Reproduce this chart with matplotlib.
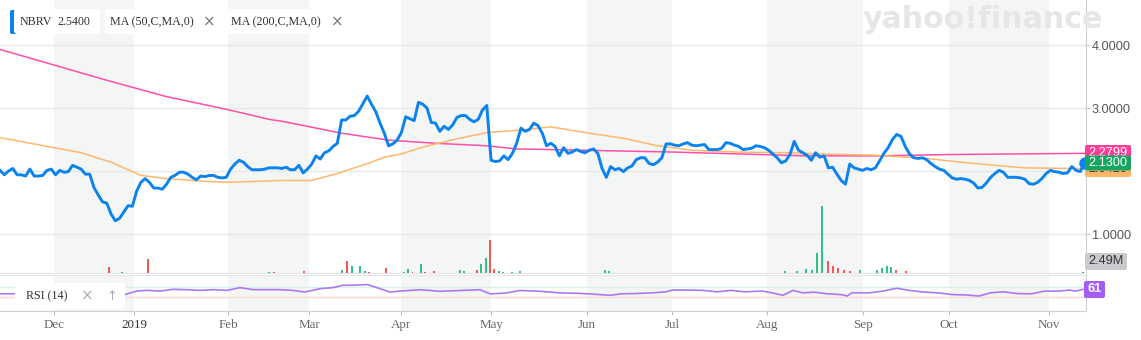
import matplotlib

matplotlib.use("Agg")
import matplotlib.pyplot as plt
import numpy as np
from matplotlib.patches import FancyBboxPatch, Rectangle
from matplotlib.transforms import IdentityTransform

# daily closes, one per session (session 0 = mid Nov 2018)
close = [
    2.01, 1.94, 2.00, 2.04, 1.94, 1.94, 1.92, 2.03, 1.92, 1.92,
    1.93, 2.01, 2.03, 1.94, 2.01, 1.98, 1.99, 2.09, 2.06, 2.03,
    1.95, 1.95, 1.74, 1.62, 1.51, 1.49, 1.32, 1.21, 1.25, 1.35,
    1.45, 1.44, 1.68, 1.82, 1.88, 1.82, 1.73, 1.73, 1.71, 1.79,
    1.90, 1.93, 1.98, 1.98, 1.95, 1.90, 1.86, 1.92, 1.91, 1.93,
    1.93, 1.90, 1.89, 1.90, 2.03, 2.11, 2.17, 2.14, 2.07, 2.02,
    2.02, 2.02, 2.03, 2.05, 2.05, 2.05, 2.04, 2.06, 2.02, 2.02,
    2.09, 1.97, 2.03, 2.11, 2.24, 2.19, 2.29, 2.32, 2.39, 2.44,
    2.81, 2.81, 2.87, 2.88, 2.95, 3.07, 3.19, 3.06, 2.94, 2.76,
    2.60, 2.40, 2.43, 2.49, 2.61, 2.86, 2.83, 2.80, 3.09, 3.06,
    3.00, 2.77, 2.76, 2.63, 2.71, 2.66, 2.73, 2.85, 2.88, 2.88,
    2.82, 2.78, 2.82, 2.97, 3.04, 2.17, 2.15, 2.16, 2.24, 2.18,
    2.28, 2.44, 2.68, 2.63, 2.66, 2.76, 2.72, 2.60, 2.40, 2.44,
    2.39, 2.24, 2.37, 2.28, 2.30, 2.34, 2.31, 2.29, 2.33, 2.35,
    2.28, 2.04, 1.90, 2.07, 2.02, 2.04, 1.99, 2.05, 2.08, 2.18,
    2.21, 2.21, 2.12, 2.10, 2.14, 2.21, 2.43, 2.43, 2.41, 2.40,
    2.43, 2.45, 2.41, 2.40, 2.41, 2.42, 2.34, 2.34, 2.34, 2.36,
    2.45, 2.44, 2.41, 2.39, 2.34, 2.35, 2.36, 2.40, 2.39, 2.37,
    2.33, 2.27, 2.21, 2.13, 2.16, 2.26, 2.47, 2.33, 2.29, 2.25,
    2.17, 2.29, 2.22, 2.24, 2.05, 2.06, 1.95, 1.85, 1.79, 2.11,
    2.05, 2.03, 2.01, 2.04, 2.02, 2.05, 2.16, 2.28, 2.37, 2.50,
    2.58, 2.55, 2.39, 2.27, 2.21, 2.20, 2.21, 2.18, 2.12, 2.07,
    2.03, 2.01, 1.95, 1.89, 1.87, 1.88, 1.87, 1.85, 1.81, 1.73,
    1.74, 1.81, 1.90, 1.96, 2.01, 1.98, 1.90, 1.90, 1.90, 1.89,
    1.87, 1.80, 1.79, 1.82, 1.88, 1.96, 2.01, 1.99, 1.98, 1.96,
    1.97, 2.07, 2.01, 1.99, 2.13,
]

ma200_s = [0, 25, 39, 53, 63, 66, 80, 91, 102, 114, 121, 129, 158, 189, 205, 221, 236, 254]
ma200_v = [3.93, 3.44, 3.18, 2.98, 2.82, 2.79, 2.60, 2.49, 2.44, 2.40, 2.35, 2.34, 2.30,
           2.24, 2.24, 2.26, 2.27, 2.28]

ma50_s = [0, 19, 26, 33, 39, 47, 53, 66, 73, 79, 83, 87, 90, 94, 98, 102, 107, 114, 122,
          129, 138, 146, 154, 162, 173, 185, 192, 205, 217, 225, 233, 240, 252, 254]
ma50_v = [2.53, 2.29, 2.14, 1.93, 1.88, 1.84, 1.82, 1.85, 1.85, 1.96, 2.05, 2.14, 2.22,
          2.27, 2.36, 2.43, 2.51, 2.61, 2.65, 2.70, 2.60, 2.52, 2.40, 2.33, 2.30, 2.29,
          2.27, 2.25, 2.20, 2.14, 2.09, 2.05, 2.04, 2.04]

# volume (millions), up = green, down = red
vol_s = [25.5, 28.6, 34.7, 63.0, 64.2, 71.2, 80.2, 81.3, 82.4, 84.3, 85.5, 86.4, 90.5,
         94.6, 95.5, 96.6, 98.6, 99.5, 101.6, 107.7, 108.7, 111.7, 112.6, 113.8, 114.8,
         115.7, 116.9, 117.8, 119.9, 121.8, 141.7, 142.6, 183.8, 186.6, 188.8, 190.2,
         191.3, 192.5, 193.9, 195.1, 196.3, 197.7, 199.1, 201.4, 205.4, 206.6, 207.7,
         208.7, 209.8, 212.2, 253.6]
vol_m = [0.6, 0.1, 1.4, 0.1, 0.15, 0.2, 0.35, 1.2, 0.7, 0.7, 0.2, 0.15, 0.5,
         0.1, 0.45, 0.15, 0.9, 0.1, 0.25, 0.35, 0.2, 0.35, 0.9, 1.5, 3.3,
         0.45, 0.25, 0.1, 0.15, 0.25, 0.3, 0.2, 0.2, 0.25, 0.4, 0.3,
         2.0, 6.7, 1.2, 0.7, 0.5, 0.3, 0.25, 0.3, 0.3, 0.5, 0.7,
         0.6, 0.3, 0.25, 0.15]
vol_up = [0, 1, 0, 1, 0, 0, 1, 0, 1, 1, 1, 0, 0,
          1, 1, 0, 1, 0, 0, 1, 1, 0, 1, 1, 0,
          0, 1, 1, 1, 1, 1, 1, 1, 1, 1, 1,
          1, 1, 0, 0, 0, 0, 0, 1, 1, 1, 1,
          1, 0, 0, 1]

rsi_s = [0, 3.5, 8, 16, 24, 29.3, 32, 34.4, 37.5, 40.5, 43.8, 46.8, 49.9, 53.2, 56.2,
         59.3, 62.5, 65.6, 68.6, 71.4, 74.9, 78, 80.3, 82.7, 86, 89, 91.3, 93.7, 98.4,
         103, 107.7, 112.4, 114.8, 118.3, 121.8, 126.5, 131.1, 135.8, 140.5, 142.9,
         145.4, 148.5, 152.7, 156, 157.4, 161.6, 164.6, 167.9, 171.2, 174.5, 178.5,
         180.8, 183.4, 185.7, 188, 190.6, 193.9, 197, 198.4, 199.5, 203.5, 206.8,
         210.1, 212.4, 215.7, 219.7, 223, 226.2, 229.3, 231.9, 234.9, 238.2, 241.5,
         244.7, 248, 250.4, 252, 253.6]
rsi_v = [42.5, 42.5, 38, 40, 30, 39.8, 52.8, 55.5, 52.8, 59.4, 58.2, 55.5, 58.2, 55.5, 66,
         58.2, 58.2, 58.2, 55.5, 49, 62, 66, 75, 75, 77.7, 62, 49, 52.8, 58,
         52, 55, 58, 42, 45, 55, 52, 46, 44, 39.4, 36.7,
         42.2, 43.3, 46, 50, 56.7, 56.7, 55.5, 50, 55.5, 50, 52.8,
         46, 36.7, 55.5, 46, 48.6, 42.2, 39.4, 34, 46, 46, 52.8,
         63.7, 56.7, 50, 46, 39.4, 38, 34, 46, 50, 43.3, 42.2,
         52.8, 52.8, 56.7, 52.8, 59.4]

month_pos = [12.6, 31.4, 53.4, 72.4, 93.9, 115.0, 137.5, 157.4, 179.6, 202.1, 222.2, 245.7]
month_lbl = ["Dec", "2019", "Feb", "Mar", "Apr", "May", "Jun", "Jul", "Aug", "Sep", "Oct", "Nov"]
price_ticks = [1, 2, 3, 4]
# 2.0000 sits under the value tags in the reference, so its label is left blank
price_lbl = ["1.0000", "", "3.0000", "4.0000"]

W, H = 1141, 340
PT = 0.72  # px -> pt at dpi 100
SERIF = ["Liberation Serif", "DejaVu Serif"]
SANS = ["Liberation Sans", "DejaVu Sans"]

fig = plt.figure(figsize=(W / 100, H / 100), dpi=100)


def box(x, y, w, h, fc="white", r=3, z=5):
    p = FancyBboxPatch((x, H - y - h), w, h, boxstyle=f"round,pad=0,rounding_size={r}",
                       transform=IdentityTransform(), fc=fc, ec="none", zorder=z)
    fig.add_artist(p)


def ptext(x, y, s, size, color, ha="left", family=SANS, weight="normal", z=6, clip=None):
    t = fig.text(x / W, 1 - y / H, s, fontsize=size * PT, color=color, ha=ha, va="center",
                 family=family, weight=weight, zorder=z)
    if clip is not None:
        cx, cy, cw, ch = clip
        t.set_clip_path(Rectangle((cx, H - cy - ch), cw, ch, transform=IdentityTransform()))
    return t


ax = fig.add_axes([0, 1 - 273 / H, 1086 / W, 273 / H])
rax = fig.add_axes([0, 1 - 311 / H, 1086 / W, 36 / H])
vax = ax.twinx()
xmax = 1086 / 4.27

for a in (ax, rax):
    a.set_xlim(0, xmax)
    for i in range(0, len(month_pos) - 1, 2):
        a.axvspan(month_pos[i], month_pos[i + 1], color="#f4f5f5", lw=0, zorder=0)

# volume underneath
vax.set_ylim(0, 27.3)
vax.bar(vol_s, vol_m, width=0.45, color=["#2fc38a" if u else "#f55656" for u in vol_up],
        lw=0)
vax.axis("off")

# main price panel
s = np.arange(len(close))
ax.set_ylim(1 - 39 / 63, 1 + 234 / 63)
for t in price_ticks:
    ax.axhline(t, color="#e9e9e9", lw=1, zorder=1)
ax.plot(ma200_s, ma200_v, color="#ff4fa8", lw=1.1, zorder=3)
ax.plot(ma50_s, ma50_v, color="#ffb76e", lw=1.1, zorder=3)
ax.plot(s, close, color="#0a83ef", lw=2.1, zorder=4, solid_joinstyle="round")
ax.plot(s[-1], close[-1], "o", ms=8, color="#0a83ef", zorder=5, clip_on=False)

ax.yaxis.tick_right()
ax.set_yticks(price_ticks)
ax.set_yticklabels(price_lbl, family=SANS, fontsize=12.7 * PT, color="#555555")
ax.tick_params(axis="y", length=4 * PT, width=0.8, color="#c8c8c8", pad=2 * PT,
               left=False, labelleft=False, right=True, labelright=True)
ax.set_xticks([])
for k in ("top", "left"):
    ax.spines[k].set_visible(False)
ax.spines["right"].set_color("#d0d0d0")
ax.spines["bottom"].set_color("#e4e4e4")

# RSI panel
rax.set_ylim(-23, 114)
rax.axhline(70, color="#d3f3e6", lw=1, zorder=1)
rax.axhline(30, color="#ffd8d8", lw=1, zorder=1)
rax.plot(rsi_s, rsi_v, color="#ad78f7", lw=1.2, zorder=3)
rax.set_yticks([])
rax.set_xticks(month_pos)
rax.set_xticklabels(month_lbl, family=SERIF, fontsize=13 * PT, color="#666666")
rax.get_xticklabels()[1].set_color("#333333")
rax.tick_params(axis="x", length=4 * PT, width=0.8, color="#c0c0c0", pad=4 * PT)
rax.spines["left"].set_visible(False)
rax.spines["top"].set_color("#e6e6e6")
rax.spines["bottom"].set_color("#cfcfcf")
rax.spines["right"].set_color("#cfcfcf")

# watermark
fig.text(983 / W, 1 - 19 / H, "yahoo!finance", fontsize=30 * PT, color="#e6e6e6",
         ha="center", va="center", family="DejaVu Sans", weight="bold", zorder=2)

# legend chips
box(10, 10, 8, 24, fc="#0a83ef", r=2)
box(14, 9, 86, 25)
ptext(20, 22, "NBRV", 12, "#333333", family=SERIF)
ptext(57, 22, "2.5400", 12, "#333333", family=SERIF)
box(105, 9, 113, 25)
ptext(110, 22, "MA (50,C,MA,0)", 12, "#333333", family=SERIF)
ptext(209, 22, "×", 15, "#777777", ha="center", family="DejaVu Sans")
box(225, 9, 122, 25)
ptext(231, 22, "MA (200,C,MA,0)", 12, "#333333", family=SERIF)
ptext(337, 22, "×", 15, "#777777", ha="center", family="DejaVu Sans")

box(15, 283, 110, 26)
ptext(26, 296, "RSI (14)", 12, "#333333", family=SERIF)
ptext(87, 296, "×", 15, "#aaaaaa", ha="center", family="DejaVu Sans")
ptext(112, 296, "↑", 13, "#aaaaaa", ha="center", family="DejaVu Sans")

# right-hand value tags (pink and orange sit partly under the green one)
box(1085, 145, 46, 15, fc="#ff3d98", r=2)
ptext(1108, 152.5, "2.2799", 12.7, "white", ha="center", clip=(1085, 140, 50, 15.5))
box(1085, 162, 46, 15, fc="#ffb46b", r=2)
ptext(1108, 169.5, "2.0420", 12.7, "#333333", ha="center", clip=(1085, 170.5, 50, 10))
box(1085, 155.5, 46, 15, fc="#17a660", r=2, z=7)
ptext(1108, 163, "2.1300", 12.7, "white", ha="center", z=8)
box(1085, 253, 42, 17, fc="#c8cacd", r=2)
ptext(1106, 261.5, "2.49M", 12.7, "#333333", ha="center")
box(1084, 281, 21, 17, fc="#a45cf6", r=2)
ptext(1094.5, 289.5, "61", 12.7, "white", ha="center", weight="bold")

fig.savefig("out.png", dpi=100)
